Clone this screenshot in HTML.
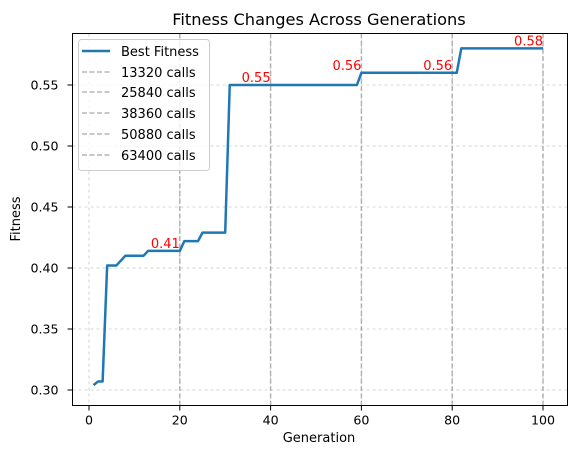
<!DOCTYPE html>
<html><head><meta charset="utf-8"><style>
body{margin:0;background:#fff}
svg{font-family:"DejaVu Sans","Liberation Sans",sans-serif}
</style></head><body>
<svg id="chart" width="575" height="455" viewBox="0 0 575 455" xmlns="http://www.w3.org/2000/svg">
<rect width="575" height="455" fill="#fff"/>
<text x="319" y="25" text-anchor="middle" font-size="16.2">Fitness Changes Across Generations</text>
<g id="grid"></g>
<g id="vlines"></g>
<g id="series"></g>
<g id="annots"></g>
<rect x="72.5" y="33.5" width="495" height="372" fill="none" stroke="#000" stroke-width="1"/>
<g id="ticks"></g>
<text x="319" y="442" text-anchor="middle" font-size="13">Generation</text>
<text transform="translate(20,219) rotate(-90)" text-anchor="middle" font-size="13">Fitness</text>
<g id="legend">
<rect x="78.5" y="39.5" width="131" height="131" rx="3" fill="#fff" fill-opacity="0.8" stroke="#ccc"/>
</g>
</svg>
<script>
const gens=[1,2,3,4,6,8,12,13,20,21,24,25,30,31,59,60,81,82,100];
const fitness=[0.304,0.307,0.307,0.402,0.402,0.41,0.41,0.414,0.414,0.422,0.422,0.429,0.429,0.55,0.55,0.56,0.56,0.58,0.58];
const markGens=[20,40,60,80,100];
const markLabels=["0.41","0.55","0.56","0.56","0.58"];
const markValues=[0.414,0.55,0.56,0.56,0.58];
const callLabels=["13320 calls","25840 calls","38360 calls","50880 calls","63400 calls"];
const xTicks=[0,20,40,60,80,100];
const yTicks=[0.30,0.35,0.40,0.45,0.50,0.55];
const NS="http://www.w3.org/2000/svg";
const L=72.5,R=567.5,T=33.5,B=405.5;
const x=v=>89+(v-0)*(543-89)/100;
const y=v=>390-(v-0.30)*(390-85)/0.25;
function mk(tag,attrs,parent){const e=document.createElementNS(NS,tag);for(const k in attrs)e.setAttribute(k,attrs[k]);document.getElementById(parent).appendChild(e);return e;}
xTicks.forEach(t=>{
 const g=mk('line',{x1:x(t),x2:x(t),y1:T,y2:B,stroke:'#b0b0b0','stroke-width':0.8,'stroke-dasharray':'3,3','stroke-opacity':0.7},'grid');
 
 
 const tk=mk('line',{x1:x(t),x2:x(t),y1:B,y2:B+5,stroke:'#000'},'ticks');
 
 
 const tl=mk('text',{x:x(t),y:B+19,'text-anchor':'middle','font-size':12.6},'ticks');
 tl.textContent=t;
 
 
});
yTicks.forEach(t=>{
 const g=mk('line',{x1:L,x2:R,y1:y(t),y2:y(t),stroke:'#b0b0b0','stroke-width':0.8,'stroke-dasharray':'3,3','stroke-opacity':0.7},'grid');
 
 
 const tk=mk('line',{x1:L-5,x2:L,y1:y(t),y2:y(t),stroke:'#000'},'ticks');
 
 
 const tl=mk('text',{x:L-14,y:y(t)+4.5,'text-anchor':'end','font-size':12.6},'ticks');
 tl.textContent=t.toFixed(2);
 
 
});
markGens.forEach((g,i)=>{
 const v=mk('line',{x1:x(g),x2:x(g),y1:T,y2:B,stroke:'#999','stroke-width':1.5,'stroke-dasharray':'5,2.5','stroke-opacity':0.7},'vlines');
 
 
 const a=mk('text',{x:x(g),y:y(markValues[i])-3,'text-anchor':'end','font-size':13,fill:'red'},'annots');
 a.textContent=markLabels[i];
 
 
});
const p=mk('polyline',{points:gens.map((g,i)=>x(g)+','+y(fitness[i])).join(' '),fill:'none',stroke:'#1f77b4','stroke-width':2.5,'stroke-linejoin':'round'},'series');


const ly=[51,72,92,113,134,155];
const l0=mk('line',{x1:82,x2:110,y1:ly[0],y2:ly[0],stroke:'#1f77b4','stroke-width':2.5},'legend');


const t0=mk('text',{x:121,y:ly[0]+5,'font-size':13},'legend');
t0.textContent='Best Fitness';


callLabels.forEach((c,i)=>{
 const s=mk('line',{x1:82,x2:110,y1:ly[i+1],y2:ly[i+1],stroke:'#999','stroke-width':1.5,'stroke-dasharray':'5,2.5','stroke-opacity':0.7},'legend');
 
 
 const t=mk('text',{x:121,y:ly[i+1]+5,'font-size':13},'legend');
 t.textContent=c;
 
 
});
</script>
</body></html>
